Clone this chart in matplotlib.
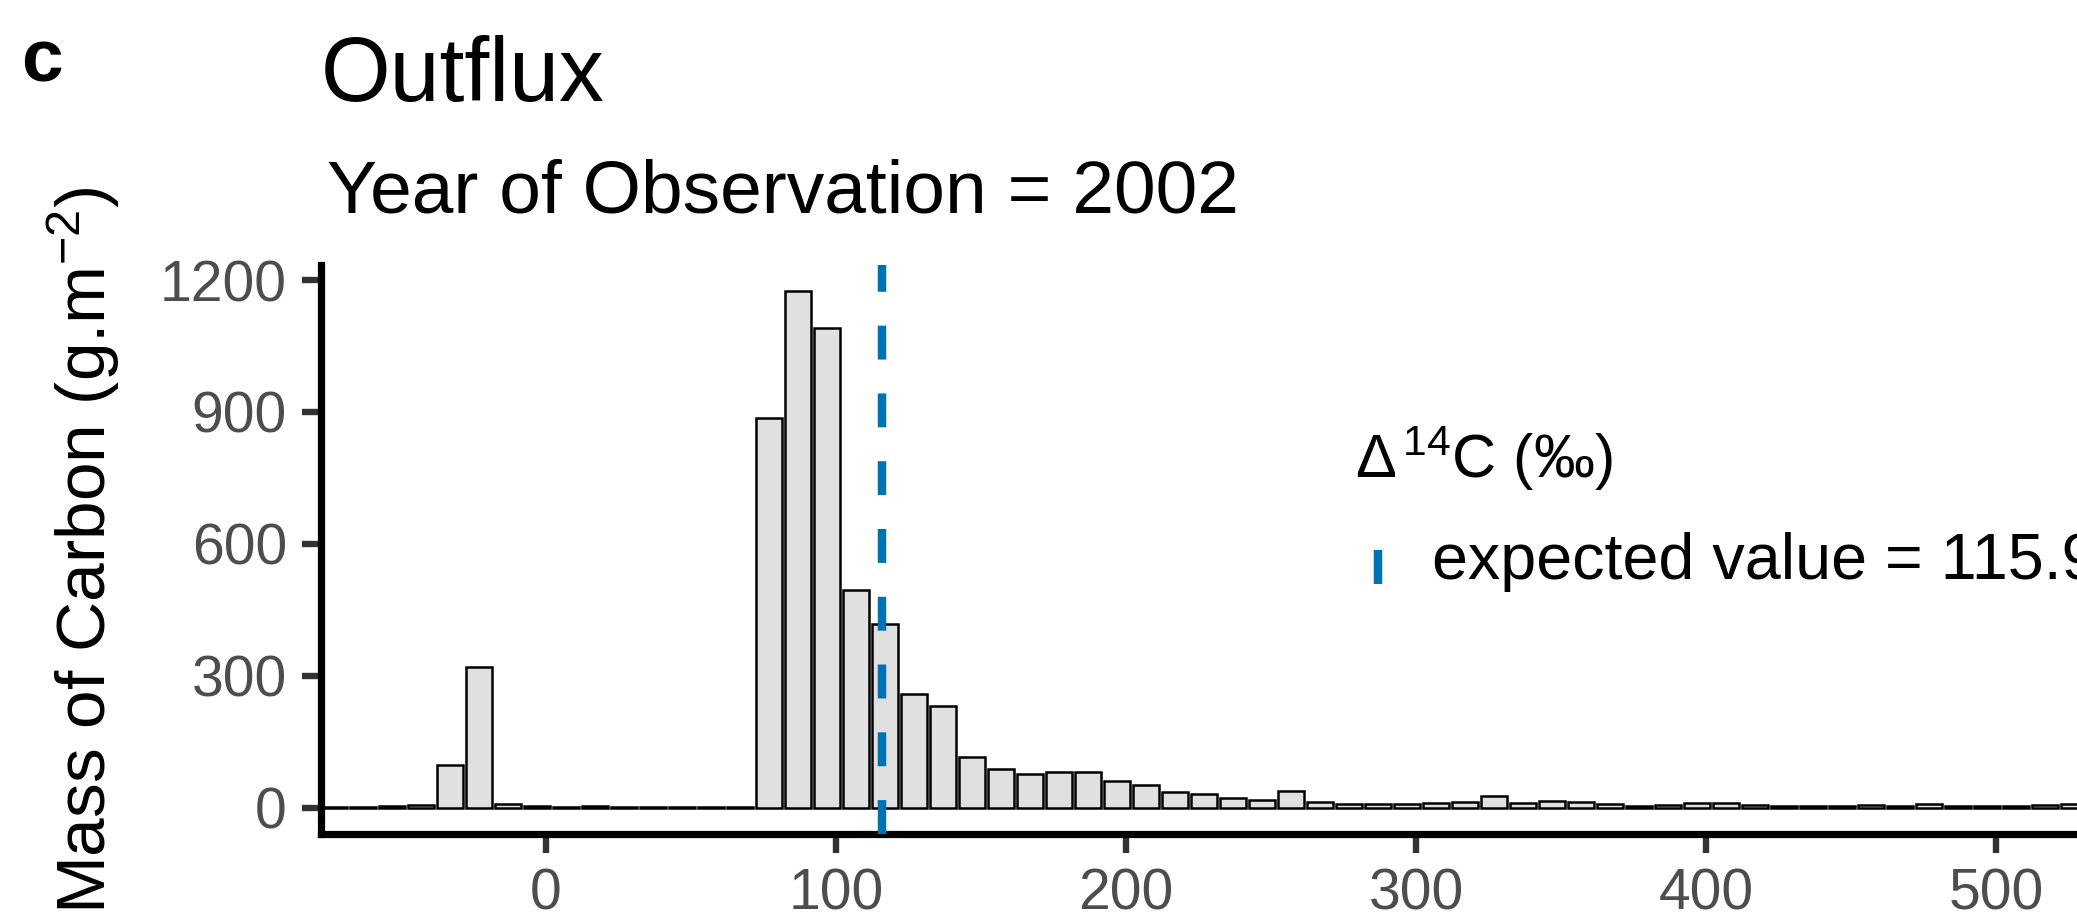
import matplotlib
matplotlib.use("Agg")
import matplotlib.pyplot as plt
from matplotlib.lines import Line2D

plt.rcParams['font.family'] = ['Liberation Sans', 'DejaVu Sans']
plt.rcParams['mathtext.fontset'] = 'custom'
plt.rcParams['mathtext.rm'] = 'Liberation Sans'
plt.rcParams['mathtext.it'] = 'Liberation Sans:italic'
plt.rcParams['mathtext.bf'] = 'Liberation Sans:bold'
plt.rcParams['mathtext.sf'] = 'Liberation Sans'

# Radiocarbon bins (Delta 14C, permil) and carbon mass in each bin (g m-2)
bin_centers = [-73, -63, -53, -43, -33, -23, -13, -3, 7, 17,
               27, 37, 47, 57, 67, 77, 87, 97, 107, 117,
               127, 137, 147, 157, 167, 177, 187, 197, 207, 217,
               227, 237, 247, 257, 267, 277, 287, 297, 307, 317,
               327, 337, 347, 357, 367, 377, 387, 397, 407, 417,
               427, 437, 447, 457, 467, 477, 487, 497, 507, 517,
               527]
carbon_mass = [0.5, 0.5, 3, 6, 97, 319, 8, 3.5, 2, 3.5,
               2, 2, 1.5, 1.5, 1.5, 885, 1175, 1090, 494, 417,
               259, 230, 115, 88, 77, 81, 80, 60, 52, 36,
               31, 21, 17.5, 37, 13, 7.6, 7, 7.5, 9.5, 12,
               26.5, 11, 14, 12, 8, 4, 5, 10, 10.5, 6,
               3.5, 3.5, 3.5, 5, 3, 7, 4, 4.5, 4.5, 6.5,
               8]
expected_value = 115.9

x_ticks = [0, 100, 200, 300, 400, 500]
y_ticks = [0, 300, 600, 900, 1200]

W, H = 2077, 922
fig = plt.figure(figsize=(W / 100, H / 100), dpi=100)


def fx(px):
    return px / W


def fy(py):
    return 1 - py / H


# panel runs past the right edge of the canvas
ax = fig.add_axes([fx(321), fy(833.5), fx(2170) - fx(321), fy(265.5) - fy(833.5)])
ax.bar(bin_centers, carbon_mass, width=9, color='#E0E0E0',
       edgecolor='black', linewidth=1.8, zorder=2)
ax.axvline(expected_value, color='#0072B2', lw=6.1, ls=(0, (4, 4)), zorder=3)

ax.set_xlim(-77.55, 560)
ax.set_ylim(-59, 1233)
ax.set_xticks(x_ticks)
ax.set_yticks(y_ticks)
ax.set_xticklabels([str(v) for v in x_ticks])
ax.set_yticklabels([str(v) for v in y_ticks])

for side in ('top', 'right'):
    ax.spines[side].set_visible(False)
for side in ('left', 'bottom'):
    ax.spines[side].set_linewidth(5.2)
    ax.spines[side].set_color('black')

ax.tick_params(axis='both', length=13.5, width=4.6, color='#333333',
               labelcolor='#4D4D4D', labelsize=41)
ax.tick_params(axis='x', pad=11)
ax.tick_params(axis='y', pad=11)

# axis title
fig.text(fx(106), fy(550), r'Mass of Carbon (g.m$^{-2}$)', rotation=90,
         rotation_mode='anchor', ha='center', va='baseline', fontsize=50,
         color='black')

# panel tag, title and subtitle
fig.text(fx(21), fy(82), 'c', fontsize=54, fontweight='bold', ha='left', va='baseline')
fig.text(fx(321), fy(101.5), 'Outflux', fontsize=64.5, ha='left', va='baseline')
fig.text(fx(327), fy(212.7), 'Year of Observation = 2002', fontsize=54,
         ha='left', va='baseline')

# legend
fig.text(fx(1355), fy(478), r'$\Delta^{\,14}$C (‰)', fontsize=44, ha='left', va='baseline')
fig.add_artist(Line2D([fx(1378), fx(1378)], [fy(584), fy(550)], color='#0072B2',
                      lw=6.1, solid_capstyle='butt'))
fig.text(fx(1432), fy(579), 'expected value = %.1f' % expected_value, fontsize=46.5,
         ha='left', va='baseline')

fig.savefig('out.png', dpi=100)
